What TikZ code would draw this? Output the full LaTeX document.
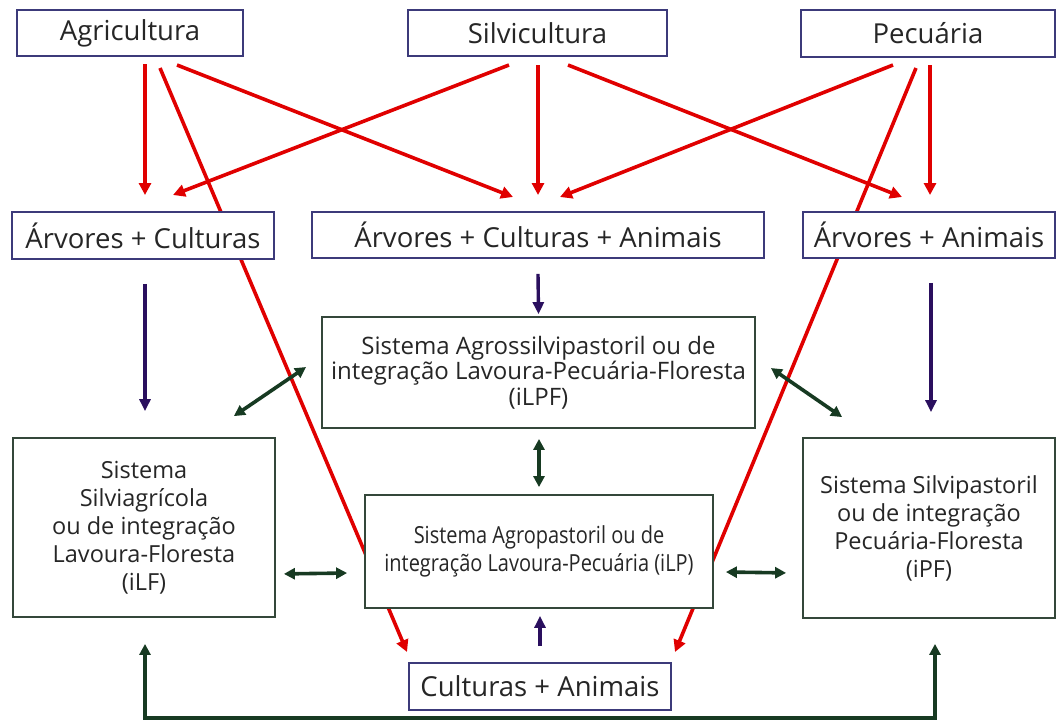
\documentclass[tikz,border=0pt]{standalone}
\usepackage{fontspec}
\setmainfont{Open Sans}
\usepackage{graphicx}
\usetikzlibrary{arrows.meta,calc}

\definecolor{boxnavy}{HTML}{3C3A7A}
\definecolor{boxgreen}{HTML}{34473A}
\definecolor{linkred}{HTML}{E00000}
\definecolor{linknavy}{HTML}{2A0F5E}
\definecolor{linkgreen}{HTML}{173A22}
\definecolor{labelgray}{HTML}{262626}

\begin{document}
\begin{tikzpicture}[x=1pt,y=-1pt,
  labelbox/.style={draw=boxnavy,line width=1.8pt,fill=white,text=labelgray,
    inner sep=0pt,font=\fontsize{27.5}{32}\selectfont},
  sysbox/.style={draw=boxgreen,line width=1.8pt,fill=white,text=labelgray,
    inner sep=0pt,align=center,font=\fontsize{23.5}{28}\selectfont},
  redlink/.style={draw=linkred,line width=3.6pt,
    -{Triangle[length=12pt,width=12pt]}},
  navylink/.style={draw=linknavy,line width=3.4pt,
    -{Triangle[length=12pt,width=11pt]}},
  greenlink/.style={draw=linkgreen,line width=3.6pt,
    {Triangle[length=11pt,width=11pt]}-{Triangle[length=11pt,width=11pt]}},
]
\useasboundingbox (0,0) rectangle (1059,724);

% source activities
\coordinate (agrS) at (130,56);
\coordinate (silvS) at (537.5,56);
\coordinate (pecS) at (928,57);
% combinations
\coordinate (acN) at (143,212);
\coordinate (acaN) at (538,212);
\coordinate (aaN) at (929,212);
\coordinate (caN) at (540,663);

% red links (drawn first, boxes cover them)
\draw[redlink] ($(agrS)+(15,8)$) -- ($(acN)+(2,-17)$);
\draw[redlink] ($(agrS)+(30,12)$) -- ($(caN)+(-133,-11)$);
\draw[redlink] ($(agrS)+(47,9)$) -- ($(acaN)+(-25,-15)$);
\draw[redlink] ($(silvS)+(-28.5,9)$) -- ($(acN)+(30,-17)$);
\draw[redlink] ($(silvS)+(0.5,9)$) -- ($(acaN)+(0,-17)$);
\draw[redlink] ($(silvS)+(30.5,9)$) -- ($(aaN)+(-27,-15)$);
\draw[redlink] ($(pecS)+(-35,8)$) -- ($(acaN)+(22,-15)$);
\draw[redlink] ($(pecS)+(-12,11)$) -- ($(caN)+(135,-11)$);
\draw[redlink] ($(pecS)+(2,8)$) -- ($(aaN)+(1,-17)$);

% boxes
\node[labelbox,minimum width=226pt,minimum height=46pt] (agr) at (130,33) {Agricultura};
\node[labelbox,minimum width=259pt,minimum height=46pt] (silv) at (537.5,33) {Silvicultura};
\node[labelbox,minimum width=254pt,minimum height=47pt] (pec) at (928,33.5) {Pecuária};

\node[labelbox,minimum width=262pt,minimum height=47pt] (ac) at (143,235.5) {Árvores + Culturas};
\node[labelbox,minimum width=452pt,minimum height=46pt] (aca) at (538,235) {Árvores + Culturas + Animais};
\node[labelbox,minimum width=252pt,minimum height=46pt] (aa) at (929,235) {Árvores + Animais};

\node[sysbox,minimum width=433pt,minimum height=111pt,font=\fontsize{24}{25.5}\selectfont] (ilpf) at (538.5,372.5)
  {Sistema Agrossilvipastoril ou de\\integração Lavoura-Pecuária-Floresta\\(iLPF)};
\node[sysbox,minimum width=262pt,minimum height=179pt] (ilf) at (144,527.5)
  {Sistema\\Silviagrícola\\ou de integração\\Lavoura-Floresta\\(iLF)};
\node[sysbox,minimum width=348pt,minimum height=113pt] (ilp) at (539,551.5)
  {\scalebox{0.85}[1]{Sistema Agropastoril ou de}\\\scalebox{0.85}[1]{integração Lavoura-Pecuária (iLP)}};
\node[sysbox,minimum width=252pt,minimum height=180pt] (ipf) at (929,528)
  {Sistema Silvipastoril\\ou de integração\\Pecuária-Floresta\\(iPF)};

\node[labelbox,minimum width=262pt,minimum height=47pt] (ca) at (540,686.5) {Culturas + Animais};

% navy links
\draw[navylink] ($(ac.south)+(2,24)$) -- ($(ilf.north)+(1,-26)$);
\draw[navylink] ($(aca.south)+(0,15)$) -- ($(ilpf.north)+(0,-2)$);
\draw[navylink] ($(aa.south)+(2,24)$) -- ($(ipf.north)+(2,-25)$);
\draw[navylink] ($(ca.north)+(0,-16)$) -- ($(ilp.south)+(1,7)$);

% green two-way links
\draw[greenlink] ($(ilf.north east)+(-42,-21)$) -- ($(ilpf.west)+(-15,-5.5)$);
\draw[greenlink] ($(ilpf.east)+(15,-4.5)$) -- ($(ipf.north west)+(40,-20)$);
\draw[greenlink] ($(ilpf.south)+(0.5,10)$) -- ($(ilp.north)+(0,-7)$);
\draw[greenlink] ($(ilf.south east)+(8,-44)$) -- ($(ilp.west)+(-17,21.5)$);
\draw[greenlink] ($(ilp.east)+(12,20.5)$) -- ($(ipf.south west)+(-16,-46)$);
\coordinate (base) at (540,718);
\draw[greenlink] ($(ilf.south)+(1,26)$) |- (base) -| ($(ipf.south)+(6,25)$);
\end{tikzpicture}
\end{document}
